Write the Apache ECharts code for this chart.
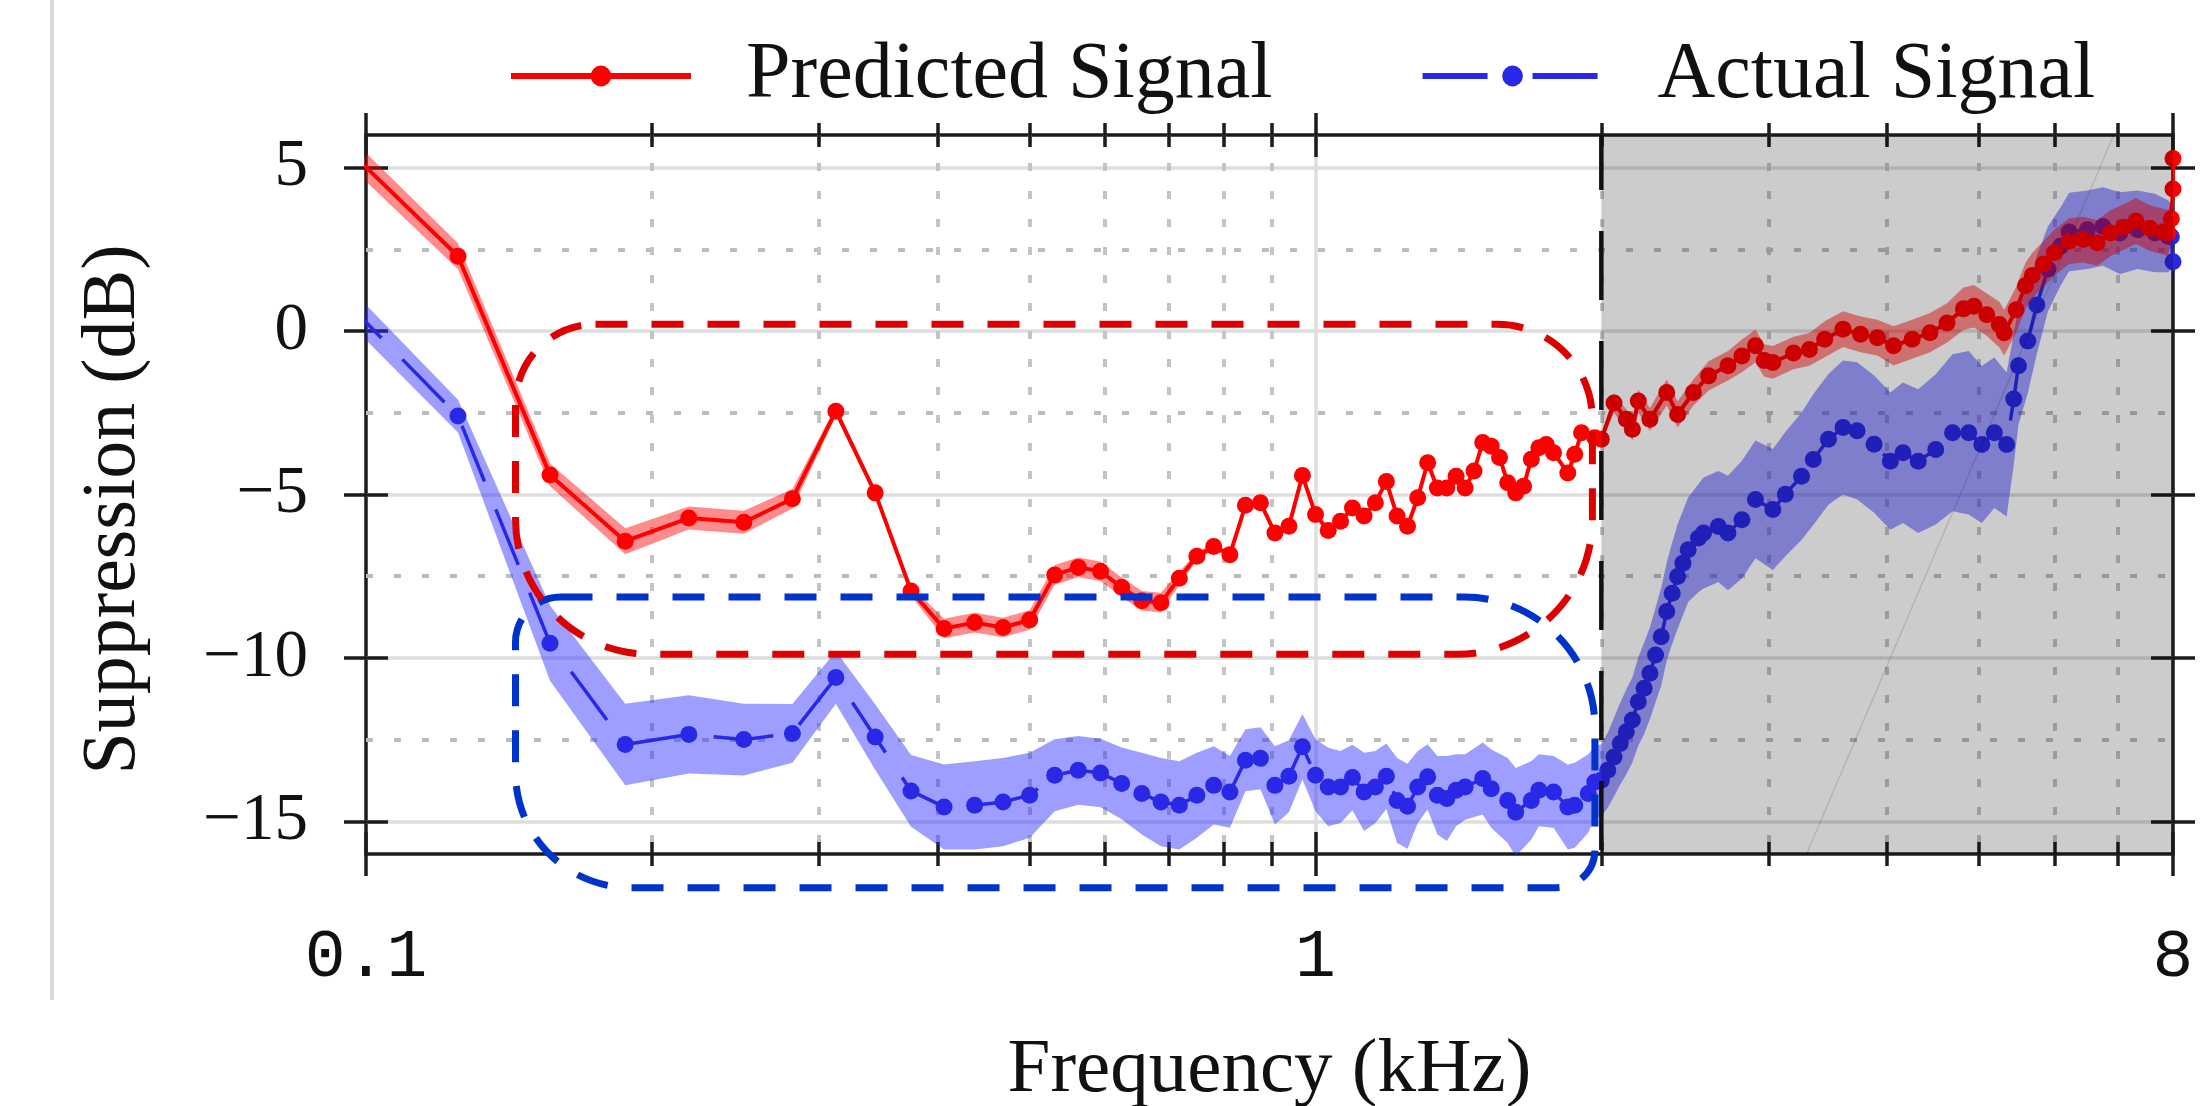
<!DOCTYPE html>
<html>
<head>
<meta charset="utf-8">
<script src="https://cdn.jsdelivr.net/npm/echarts@6/dist/echarts.min.js"></script>
<style>
html,body{margin:0;padding:0;background:#ffffff;}
#chart{width:2205px;height:1106px;}
</style>
</head>
<body>
<div id="chart"></div>
<script>
// ---------------- data (frequency in kHz, suppression in dB) ----------------
const predFreq = [
  0.09375, 0.125, 0.15625, 0.1875, 0.21875, 0.25, 0.28125, 0.3125, 0.34375, 0.375,
  0.40625, 0.4375, 0.46875, 0.5, 0.53125, 0.5625, 0.59375, 0.625, 0.65625, 0.6875,
  0.71875, 0.75, 0.78125, 0.8125, 0.84375, 0.875, 0.90625, 0.9375, 0.96875, 1.0,
  1.03125, 1.0625, 1.09375, 1.125, 1.15625, 1.1875, 1.21875, 1.25, 1.28125, 1.3125,
  1.34375, 1.375, 1.40625, 1.4375, 1.46875, 1.5, 1.53125, 1.5625, 1.59375, 1.625,
  1.65625, 1.6875, 1.71875, 1.75, 1.78125, 1.84375, 1.875, 1.90625, 1.96875, 2.0,
  2.0625, 2.125, 2.15625, 2.1875, 2.25, 2.34375, 2.40625, 2.5, 2.59375, 2.71875,
  2.8125, 2.90625, 2.96875, 3.03125, 3.1875, 3.3125, 3.4375, 3.59375, 3.75, 3.90625,
  4.0625, 4.25, 4.4375, 4.625, 4.8125, 4.9375, 5.09375, 5.25, 5.3125, 5.46875,
  5.59375, 5.6875, 5.84375, 6.0, 6.21875, 6.4375, 6.65625, 6.875, 7.09375, 7.3125,
  7.5625, 7.8125, 7.90625, 7.96875, 8.0, 8.0
];
const predValue = [
  5.8, 2.29, -4.4, -6.43, -5.72, -5.85, -5.13, -2.45, -4.95, -7.95,
  -9.1, -8.92, -9.07, -8.84, -7.46, -7.23, -7.35, -7.84, -8.25, -8.31,
  -7.56, -6.89, -6.59, -6.84, -5.33, -5.25, -6.18, -5.97, -4.42, -5.61,
  -6.1, -5.82, -5.41, -5.66, -5.25, -4.6, -5.66, -5.97, -5.1, -4.03,
  -4.8, -4.8, -4.44, -4.8, -4.28, -3.41, -3.52, -3.87, -4.64, -4.95,
  -4.75, -3.92, -3.57, -3.47, -3.72, -4.34, -3.77, -3.11, -3.26, -3.31,
  -2.2, -2.7, -3.0, -2.14, -2.7, -1.88, -2.55, -1.88, -1.37, -1.06,
  -0.76, -0.45, -0.9, -0.96, -0.67, -0.56, -0.25, 0.06, -0.1, -0.2,
  -0.45, -0.25, -0.05, 0.25, 0.68, 0.76, 0.5, 0.2, -0.05, 0.65,
  1.39, 1.7, 2.05, 2.4, 2.75, 2.8, 2.7, 3.0, 3.18, 3.37,
  3.15, 3.04, 3.0, 3.44, 4.35, 5.28
];
const predErr = [
  0.45, 0.4, 0.35, 0.4, 0.35, 0.35, 0.3, 0.15, 0.1, 0.15,
  0.3, 0.3, 0.3, 0.3, 0.3, 0.3, 0.3, 0.3, 0.3, 0.3,
  0.2, 0.12, 0.1, 0.08, 0.05, 0.05, 0.05, 0.05, 0.05, 0.05,
  0.05, 0.05, 0.05, 0.05, 0.05, 0.05, 0.05, 0.05, 0.05, 0.05,
  0.05, 0.05, 0.05, 0.05, 0.05, 0.05, 0.05, 0.05, 0.05, 0.05,
  0.05, 0.05, 0.05, 0.05, 0.05, 0.05, 0.05, 0.05, 0.05, 0.1,
  0.3, 0.3, 0.35, 0.35, 0.35, 0.4, 0.4, 0.4, 0.45, 0.45,
  0.5, 0.5, 0.5, 0.5, 0.5, 0.5, 0.55, 0.55, 0.55, 0.55,
  0.6, 0.6, 0.6, 0.6, 0.65, 0.65, 0.65, 0.7, 0.7, 0.7,
  0.7, 0.7, 0.7, 0.7, 0.7, 0.7, 0.7, 0.7, 0.7, 0.7,
  0.7, 0.7, 0.7, 0.6, 0.2, 0.2
];

const actFreq = [
  0.09375, 0.125, 0.15625, 0.1875, 0.21875, 0.25, 0.28125, 0.3125, 0.34375, 0.375,
  0.40625, 0.4375, 0.46875, 0.5, 0.53125, 0.5625, 0.59375, 0.625, 0.65625, 0.6875,
  0.71875, 0.75, 0.78125, 0.8125, 0.84375, 0.875, 0.90625, 0.9375, 0.96875, 1.0,
  1.03125, 1.0625, 1.09375, 1.125, 1.15625, 1.1875, 1.21875, 1.25, 1.28125, 1.3125,
  1.34375, 1.375, 1.40625, 1.4375, 1.5, 1.53125, 1.59375, 1.625, 1.6875, 1.71875,
  1.78125, 1.84375, 1.875, 1.9375, 1.96875, 2.0, 2.03125, 2.0625, 2.09375, 2.125,
  2.15625, 2.1875, 2.21875, 2.25, 2.28125, 2.3125, 2.34375, 2.375, 2.40625, 2.4375,
  2.46875, 2.53125, 2.5625, 2.65625, 2.71875, 2.8125, 2.90625, 3.03125, 3.125, 3.25,
  3.34375, 3.46875, 3.59375, 3.71875, 3.875, 4.03125, 4.15625, 4.3125, 4.5, 4.6875,
  4.875, 5.03125, 5.1875, 5.34375, 5.4375, 5.5, 5.625, 5.75, 5.90625, 6.09375,
  6.21875, 6.5, 6.75, 7.03125, 7.34375, 7.65625, 7.90625, 7.96875, 8.0
];
const actValue = [
  1.1, -2.6, -9.55, -12.65, -12.34, -12.5, -12.31, -10.6, -12.42, -14.07,
  -14.56, -14.51, -14.41, -14.2, -13.59, -13.44, -13.52, -13.84, -14.15, -14.41,
  -14.51, -14.2, -13.9, -14.1, -13.13, -13.07, -13.9, -13.62, -12.72, -13.59,
  -13.95, -13.95, -13.66, -14.1, -13.95, -13.62, -14.36, -14.54, -13.95, -13.64,
  -14.2, -14.3, -14.05, -13.95, -13.69, -14.0, -14.36, -14.72, -14.36, -14.05,
  -14.1, -14.56, -14.51, -14.15, -13.8, -13.74, -13.44, -13.03, -12.62, -12.26,
  -11.9, -11.34, -10.93, -10.47, -9.91, -9.35, -8.58, -8.02, -7.51, -7.1,
  -6.69, -6.33, -6.18, -5.98, -6.18, -5.77, -5.15, -5.46, -4.99, -4.44,
  -3.93, -3.31, -2.95, -3.05, -3.46, -3.98, -3.72, -3.98, -3.62, -3.11,
  -3.11, -3.47, -3.11, -3.47, -2.08, -1.06, -0.3, 0.8, 1.9, 2.6,
  3.03, 3.1, 3.2, 3.0, 3.1, 3.0, 2.9, 2.89, 2.12
];
const actErr = [
  0.55, 0.5, 1.15, 1.25, 1.2, 1.1, 0.9, 0.8, 1.0, 1.1,
  1.3, 1.35, 1.35, 1.3, 1.1, 1.05, 1.05, 1.1, 1.25, 1.35,
  1.35, 1.3, 1.2, 1.1, 0.95, 0.95, 1.2, 1.1, 1.0, 1.1,
  1.2, 1.1, 1.0, 1.2, 1.1, 1.0, 1.3, 1.3, 1.1, 1.0,
  1.2, 1.3, 1.1, 1.0, 1.1, 1.2, 1.3, 1.35, 1.2, 1.1,
  1.1, 1.3, 1.3, 1.2, 1.1, 1.1, 1.15, 1.2, 1.25, 1.3,
  1.3, 1.35, 1.4, 1.4, 1.45, 1.5, 1.5, 1.55, 1.6, 1.6,
  1.6, 1.65, 1.7, 1.7, 1.75, 1.8, 1.8, 1.85, 1.9, 1.95,
  2.0, 2.0, 2.05, 2.1, 2.1, 2.1, 2.15, 2.2, 2.3, 2.4,
  2.5, 2.4, 2.3, 2.2, 2.0, 1.8, 1.6, 1.5, 1.3, 1.2,
  1.2, 1.2, 1.2, 1.25, 1.2, 1.2, 1.1, 1.0, 0.6
];

// axis ticks / labels
const xLabelTicks = [0.1, 1, 8];
const xMinorTicks = [0.2, 0.3, 0.4, 0.5, 0.6, 0.7, 0.8, 0.9, 2, 3, 4, 5, 6, 7];
const xMajorGrid = [1];
const yTicks = [-15, -10, -5, 0, 5];
const yMinorTicks = [-12.5, -7.5, -2.5, 2.5];
const xRange = [0.1, 8];
const yRange = [-16, 6];

// shaded band (kHz) and faint trace in it
const shadeRange = [2, 8];
const faintTrace = [[3.29, -16], [6.93, 6]];

// annotation boxes: [fLeft, dBTop, fRight, dBBottom]
const highlightBoxes = [
  [0.1437, -8.14, 1.969, -17.03],   // around actual signal
  [0.1437, 0.21, 1.957, -9.89]      // around predicted signal
];

// ---------------- styling ----------------
const SERIF = 'Liberation Serif';
const MONO = 'Liberation Mono';
const INK = '#1c1c1c';
const tickStyle = { color: INK, width: 3.5 };
const boxStyles = [
  { stroke: '#0033cc', r: [45, 130, 38, 115] },
  { stroke: '#dd0000', r: [80, 95, 135, 135] }
];

const chart = echarts.init(document.getElementById('chart'), null, { renderer: 'canvas', width: 2205, height: 1106 });

function xAx(extra) {
  return Object.assign({
    type: 'log', logBase: 10, min: xRange[0], max: xRange[1], gridIndex: 0,
    axisLine: { show: false, onZero: false },
    axisLabel: { show: false }, axisTick: { show: false },
    splitLine: { show: false }, minorTick: { show: false }, minorSplitLine: { show: false },
    silent: true
  }, extra);
}
function yAx(extra) {
  return Object.assign({
    type: 'value', min: yRange[0], max: yRange[1], gridIndex: 0,
    axisLine: { show: false, onZero: false },
    axisLabel: { show: false }, axisTick: { show: false },
    splitLine: { show: false }, minorTick: { show: false }, minorSplitLine: { show: false },
    silent: true
  }, extra);
}
function fmtX(v) {
  const r = Math.round(v);
  if (Math.abs(v - r) < 1e-6) return String(r);
  return String(+v.toFixed(3));
}
function fmtY(v) {
  return v < 0 ? '\u2212' + Math.abs(v) : String(v);
}

function bandRenderer(freqs, vals, errs, color) {
  return function (params, api) {
    if (params.dataIndex !== 0) return null;
    const top = [], bot = [];
    for (let i = 0; i < freqs.length; i++) {
      top.push(api.coord([freqs[i], vals[i] + errs[i]]));
      bot.push(api.coord([freqs[i], vals[i] - errs[i]]));
    }
    return {
      type: 'polygon',
      shape: { points: top.concat(bot.reverse()) },
      style: { fill: color, stroke: 'none' }
    };
  };
}

const option = {
  animation: false,
  backgroundColor: '#ffffff',
  grid: {
    left: 366, right: 32, top: 135, bottom: 252,
    containLabel: false, outerBoundsMode: 'none',
    show: true, borderColor: INK, borderWidth: 3.5, backgroundColor: 'transparent'
  },
  legend: {
    left: 503, top: 31,
    itemWidth: 180, itemHeight: 26, itemGap: 147,
    selectedMode: false,
    textStyle: { fontFamily: SERIF, fontSize: 80, color: '#111', padding: [0, 0, 0, 50] },
    data: [
      { name: 'Predicted Signal', lineStyle: { width: 6 } },
      { name: 'Actual Signal', lineStyle: { width: 6, type: [65, 45] } }
    ]
  },
  graphic: [
    { type: 'rect', left: 50, top: 0, shape: { width: 4, height: 1000 }, style: { fill: '#d8d8d8' }, silent: true }
  ],
  xAxis: [
    xAx({
      position: 'bottom', offset: -22,
      axisTick: { show: true, inside: false, length: 44, customValues: xLabelTicks, lineStyle: tickStyle },
      axisLabel: { show: true, customValues: xLabelTicks, margin: 92, formatter: fmtX,
        fontFamily: MONO, fontSize: 68, color: '#111' },
      name: 'Frequency (kHz)', nameLocation: 'middle', nameGap: 200,
      nameTextStyle: { fontFamily: SERIF, fontSize: 77, color: '#111' }
    }),
    xAx({
      position: 'bottom', offset: -12,
      axisTick: { show: true, inside: false, length: 24, customValues: xMinorTicks, lineStyle: tickStyle },
      splitLine: { show: true, lineStyle: { color: '#c4c4c4', width: 4, type: [8, 20] } }
    }),
    xAx({
      position: 'top', offset: -22,
      axisTick: { show: true, inside: false, length: 44, customValues: xLabelTicks, lineStyle: tickStyle }
    }),
    xAx({
      position: 'top', offset: -12,
      axisTick: { show: true, inside: false, length: 24, customValues: xMinorTicks, lineStyle: tickStyle }
    }),
    xAx({
      position: 'bottom',
      axisTick: { show: false, customValues: xMajorGrid },
      splitLine: { show: true, lineStyle: { color: '#dedede', width: 3.5 } }
    })
  ],
  yAxis: [
    yAx({
      position: 'left', offset: -22,
      axisTick: { show: true, inside: false, length: 44, customValues: yTicks, lineStyle: tickStyle },
      axisLabel: { show: true, customValues: yTicks, margin: 80, formatter: fmtY,
        fontFamily: SERIF, fontSize: 67, color: '#111' },
      splitLine: { show: true, lineStyle: { color: '#dedede', width: 3.5 } },
      name: 'Suppression (dB)', nameLocation: 'middle', nameGap: 236, nameRotate: 90,
      nameTextStyle: { fontFamily: SERIF, fontSize: 76, color: '#111', padding: [0, 30, 0, 0] }
    }),
    yAx({
      position: 'left',
      axisTick: { show: false, customValues: yMinorTicks },
      splitLine: { show: true, lineStyle: { color: '#bdbdbd', width: 4, type: [7, 21] } }
    }),
    yAx({
      position: 'right', offset: -22,
      axisTick: { show: true, inside: false, length: 44, customValues: yTicks, lineStyle: tickStyle }
    })
  ],
  series: [
    {
      type: 'custom', name: 'actualBand', z: 2, clip: true, silent: true,
      data: actFreq.map((f, i) => [f, actValue[i]]),
      renderItem: bandRenderer(actFreq, actValue, actErr, 'rgba(40,40,255,0.45)')
    },
    {
      type: 'line', name: 'Actual Signal', z: 3, clip: true, silent: true,
      data: actFreq.map((f, i) => [f, actValue[i]]),
      color: '#2828e6',
      symbol: 'circle', symbolSize: 17, showSymbol: true, showAllSymbol: true,
      lineStyle: { color: '#2828e6', width: 3.5, type: [60, 30] },
      itemStyle: { color: '#2828e6' }
    },
    {
      type: 'custom', name: 'predBand', z: 4, clip: true, silent: true,
      data: predFreq.map((f, i) => [f, predValue[i]]),
      renderItem: bandRenderer(predFreq, predValue, predErr, 'rgba(255,0,0,0.45)')
    },
    {
      type: 'line', name: 'Predicted Signal', z: 5, clip: true, silent: true,
      data: predFreq.map((f, i) => [f, predValue[i]]),
      color: '#ff0000',
      symbol: 'circle', symbolSize: 17, showSymbol: true, showAllSymbol: true,
      lineStyle: { color: '#ff0000', width: 4 },
      itemStyle: { color: '#ff0000' }
    },
    {
      type: 'custom', name: 'shade', z: 6, clip: false, silent: true,
      data: [shadeRange],
      renderItem: function (params, api) {
        const p0 = api.coord([shadeRange[0], yRange[1]]);
        const p1 = api.coord([shadeRange[1], yRange[0]]);
        const d0 = api.coord(faintTrace[0]);
        const d1 = api.coord(faintTrace[1]);
        return {
          type: 'group',
          children: [
            { type: 'rect', shape: { x: p0[0], y: p0[1], width: p1[0] - p0[0], height: p1[1] - p0[1] },
              style: { fill: 'rgba(0,0,0,0.2)' } },
            { type: 'line', shape: { x1: d0[0], y1: d0[1], x2: d1[0], y2: d1[1] },
              style: { stroke: 'rgba(0,0,0,0.12)', lineWidth: 1.5 } },
            { type: 'line', shape: { x1: p0[0], y1: p0[1], x2: p0[0], y2: p1[1] },
              style: { stroke: '#111', lineWidth: 4.5, lineDash: [69, 41], lineDashOffset: 14 } }
          ]
        };
      }
    },
    {
      type: 'custom', name: 'boxes', z: 7, clip: false, silent: true,
      data: highlightBoxes,
      renderItem: function (params, api) {
        const i = params.dataIndex;
        const tl = api.coord([api.value(0), api.value(1)]);
        const br = api.coord([api.value(2), api.value(3)]);
        const st = boxStyles[i];
        return {
          type: 'rect',
          shape: { x: tl[0], y: tl[1], width: br[0] - tl[0], height: br[1] - tl[1], r: st.r },
          style: { fill: 'none', stroke: st.stroke, lineWidth: 7, lineDash: [32, 24] }
        };
      }
    }
  ]
};
chart.setOption(option);
</script>
</body>
</html>
